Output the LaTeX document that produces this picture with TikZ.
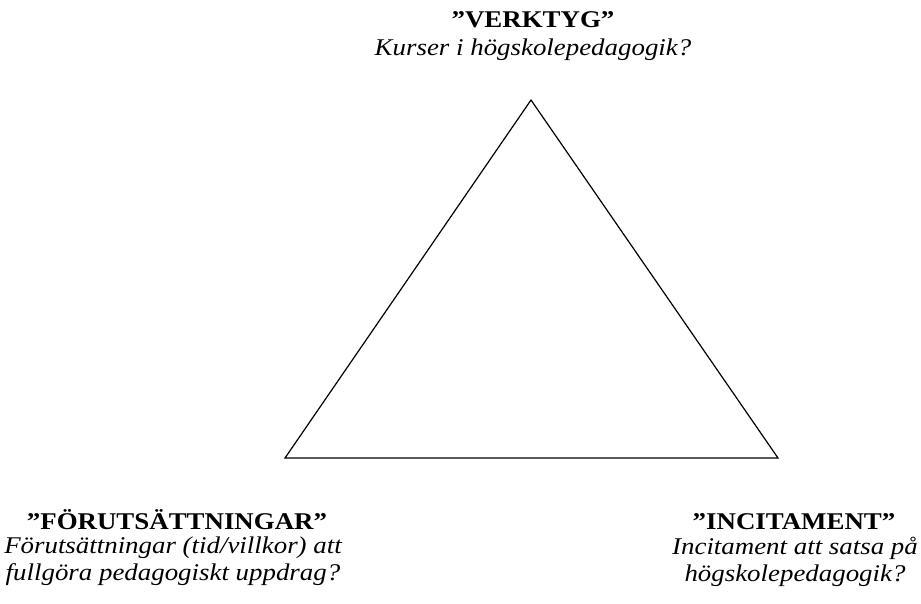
\documentclass[tikz,border=0pt]{standalone}
\usepackage{fontspec}
\setmainfont{Liberation Serif}[FakeStretch=1.12]
\tikzset{
	rubrik/.style={font=\fontsize{24}{27}\selectfont\bfseries,inner sep=0pt,anchor=base},
	fraga/.style={font=\fontsize{24}{27}\selectfont\itshape,inner sep=0pt,anchor=base,align=center}
}
\begin{document}
\begin{tikzpicture}[x=1pt,y=-1pt,line join=miter]
	\useasboundingbox (0,0) rectangle (921,604);
	\coordinate (V) at (531,100);
	\coordinate (F) at (285,458);
	\coordinate (I) at (778,458);
	\draw[line width=1.2pt] (V)--(F)--(I)--cycle;
	\node[rubrik] (verktyg) at (533,28) {”VERKTYG”};
	\node[fraga] (kurser) at (533,56) {Kurser i högskolepedagogik?};
	\node[rubrik] (forut) at (177,529) {”FÖRUTSÄTTNINGAR”};
	\node[fraga,anchor=north] (tid) at (173,537) {Förutsättningar (tid/villkor) att\\fullgöra pedagogiskt uppdrag?};
	\node[rubrik] (incit) at (794,529) {”INCITAMENT”};
	\node[fraga,anchor=north] (satsa) at (795,537) {Incitament att satsa på\\högskolepedagogik?};
\end{tikzpicture}
\end{document}
